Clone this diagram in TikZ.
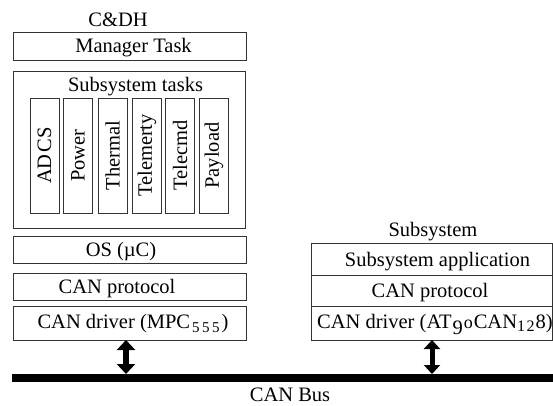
\documentclass[tikz,border=0pt]{standalone}
\usepackage{fontspec}
\setmainfont{Liberation Serif}
\usetikzlibrary{arrows.meta}
\newcommand\mysubtxt[2]{\raisebox{-#1}{\fontsize{15}{15}\selectfont #2}}
\begin{document}
\begin{tikzpicture}[x=1pt,y=-1pt,
  box/.style={draw=black!80,line width=0.9pt,inner sep=0pt},
  taskbox/.style={draw=black!80,line width=0.9pt,inner sep=0pt,rotate=90,
     minimum width=115pt,minimum height=29pt,font=\fontsize{20.5}{24}\selectfont},
  lbl/.style={anchor=base,inner sep=0pt,font=\fontsize{20.5}{24}\selectfont},
  dbl/.style={line width=5.5pt,black,{Triangle[width=18pt,length=10pt]}-{Triangle[width=18pt,length=10pt]}},
  dbls/.style={line width=5pt,black,{Triangle[width=16pt,length=9pt]}-{Triangle[width=16pt,length=9pt]}},
  bus/.style={line width=8pt,black}]
\useasboundingbox (0,0) rectangle (553,405);
\fill[white] (0,0) rectangle (553,405);

% C&DH stack
\node[lbl] (cdh) at (118,26) {C\&DH};
\node[box,minimum width=233pt,minimum height=28pt] (mgr) at (129.5,46) {};
\node[lbl] (mgrt) at (133.5,52) {Manager Task};
\node[box,minimum width=232pt,minimum height=157pt] (subt) at (129,149.5) {};
\node[lbl] (subtt) at (135.5,91) {Subsystem tasks};
\node[taskbox] (adcs) at (44.5,155.5) {AD\kern2pt CS};
\node[taskbox] (power) at (78,155.5) {Power};
\node[taskbox] (thermal) at (112.5,155.5) {Thermal};
\node[taskbox] (telem) at (147,155.5) {Telemerty};
\node[taskbox] (telecmd) at (180,155.5) {Telecmd};
\node[taskbox] (payload) at (214,155.5) {Payload};
\node[box,minimum width=233pt,minimum height=27pt] (os) at (129.5,249.5) {};
\node[lbl] (ost) at (121,256) {OS (µC)};
\node[box,minimum width=233pt,minimum height=27pt] (canp) at (129.5,286.5) {};
\node[lbl] (canpt) at (117,293) {CAN protocol};
\node[box,minimum width=233pt,minimum height=34pt] (cand) at (129.5,323) {};
\node[lbl] (candt) at (133,328) {CAN driver (MPC\kern2pt\mysubtxt{4pt}{5\kern2.5pt5\kern2.5pt5}\kern2pt)};

% Subsystem stack
\node[lbl] (subs) at (433,236) {Subsystem};
\node[box,minimum width=241.5pt,minimum height=32pt] (sapp) at (431.75,259) {};
\node[lbl] (sappt) at (437.5,266) {Subsystem application};
\node[box,minimum width=241.5pt,minimum height=31pt] (canp2) at (431.75,290.5) {};
\node[lbl] (canp2t) at (430,297) {CAN protocol};
\node[box,minimum width=241.5pt,minimum height=34pt] (cand2) at (431.75,323) {};
\node[lbl,anchor=base west] (cand2t) at (317,328) {CAN driver (AT\kern1pt\raisebox{-6pt}{9}\kern1pt{\fontsize{18}{18}\selectfont o}\kern1pt CAN\raisebox{-3pt}{\fontsize{16}{16}\selectfont 1\kern1.5pt2}\kern1pt 8)};

% bus
\coordinate (busL) at (12,378);
\coordinate (busR) at (553,378);
\draw[bus] (busL) -- (busR);
\node[lbl] (bust) at (290,401) {CAN Bus};

% arrows
\coordinate (a1t) at (126,340);
\coordinate (a1b) at (126,374);
\coordinate (a2t) at (432,340);
\coordinate (a2b) at (432,374);
\draw[dbl] (a1t) -- (a1b);
\draw[dbls] (a2t) -- (a2b);
\end{tikzpicture}
\end{document}
